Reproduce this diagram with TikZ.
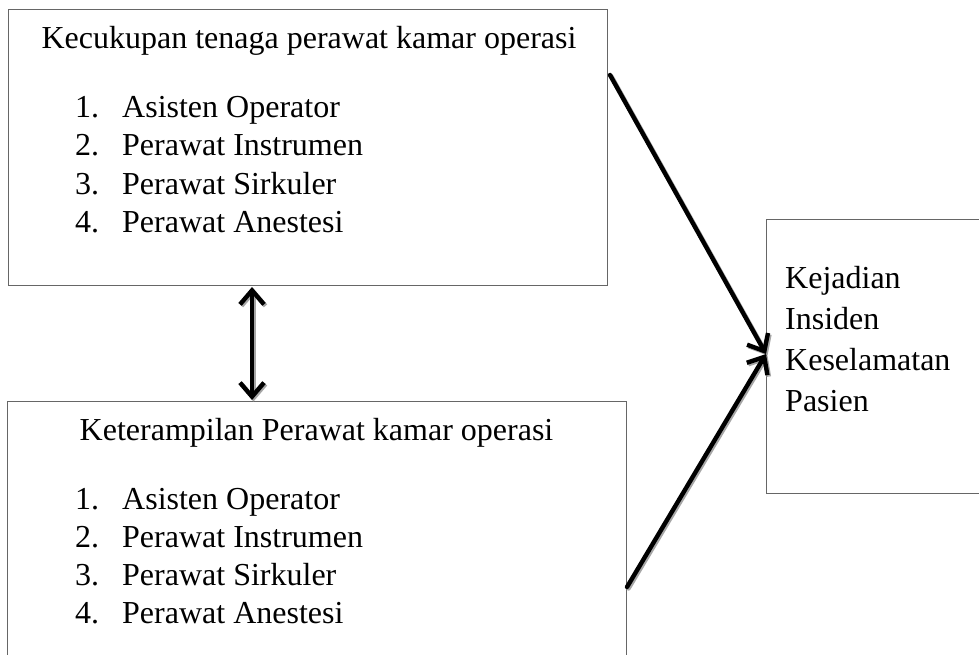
\documentclass[tikz,border=0pt]{standalone}
\usepackage{fontspec}
\setmainfont{Liberation Serif}
\usetikzlibrary{arrows.meta,calc}
\begin{document}
\begin{tikzpicture}[x=1pt,y=-1pt,
  box/.style={draw=black!60, line width=1pt, inner sep=0pt, anchor=north west},
  txt/.style={inner sep=0pt, font=\fontsize{32}{37}\selectfont},
  conn/.style={line width=4.4pt, line cap=round, -{Straight Barb[length=14pt,width=24pt]}},
  dconn/.style={line width=4.4pt, {Straight Barb[length=14pt,width=24pt]}-{Straight Barb[length=14pt,width=24pt]}},
  shade/.style={draw=black!35, transform canvas={xshift=1.5pt,yshift=-1.5pt}}
]
\useasboundingbox (0,0) rectangle (979,655);
\fill[white] (0,0) rectangle (979,655);

% boxes
\node[box, minimum width=599pt, minimum height=276pt] (k1) at (8,9) {};
\node[box, minimum width=619pt, minimum height=320pt] (k2) at (7,401) {};
\node[box, minimum width=216pt, minimum height=274pt] (k3) at (766,219) {};

% box 1 text
\node[txt, anchor=base] (h1) at (309,49) {Kecukupan tenaga perawat kamar operasi};
\foreach \n/\t [count=\i from 0] in {1/Asisten Operator, 2/Perawat Instrumen, 3/Perawat Sirkuler, 4/Perawat Anestesi}{
  \node[txt, anchor=base west] (a\n) at (75,118+38*\i) {\n.};
  \node[txt, anchor=base west] (b\n) at (122,118+38*\i) {\t};
}
% box 2 text
\node[txt, anchor=base] (h2) at (316.5,440) {Keterampilan Perawat kamar operasi};
\foreach \n/\t [count=\i from 0] in {1/Asisten Operator, 2/Perawat Instrumen, 3/Perawat Sirkuler, 4/Perawat Anestesi}{
  \node[txt, anchor=base west] (c\n) at (75,509+38*\i) {\n.};
  \node[txt, anchor=base west] (d\n) at (122,509+38*\i) {\t};
}
% box 3 text
\foreach \t [count=\i from 0] in {Kejadian, Insiden, Keselamatan, Pasien}{
  \node[txt, anchor=base west] (e\i) at (785,288+41*\i) {\t};
}

% connector end points on the box borders
\coordinate (s1) at ($(k1.north east)+(2,66)$);
\coordinate (s2) at ($(k2.north east)+(0,186)$);
\coordinate (t3) at ($(k3.north west)+(0,135)$);
\coordinate (u1) at ($(k1.south west)+(244,1)$);
\coordinate (u2) at ($(k2.north west)+(245,-1)$);

% shadows
\draw[conn, shade] (s1) -- (t3);
\draw[conn, shade] (s2) -- (t3);
\draw[dconn, shade] (u1) -- (u2);
% connectors
\draw[conn] (s1) -- (t3);
\draw[conn] (s2) -- (t3);
\draw[dconn] (u1) -- (u2);
\end{tikzpicture}
\end{document}
